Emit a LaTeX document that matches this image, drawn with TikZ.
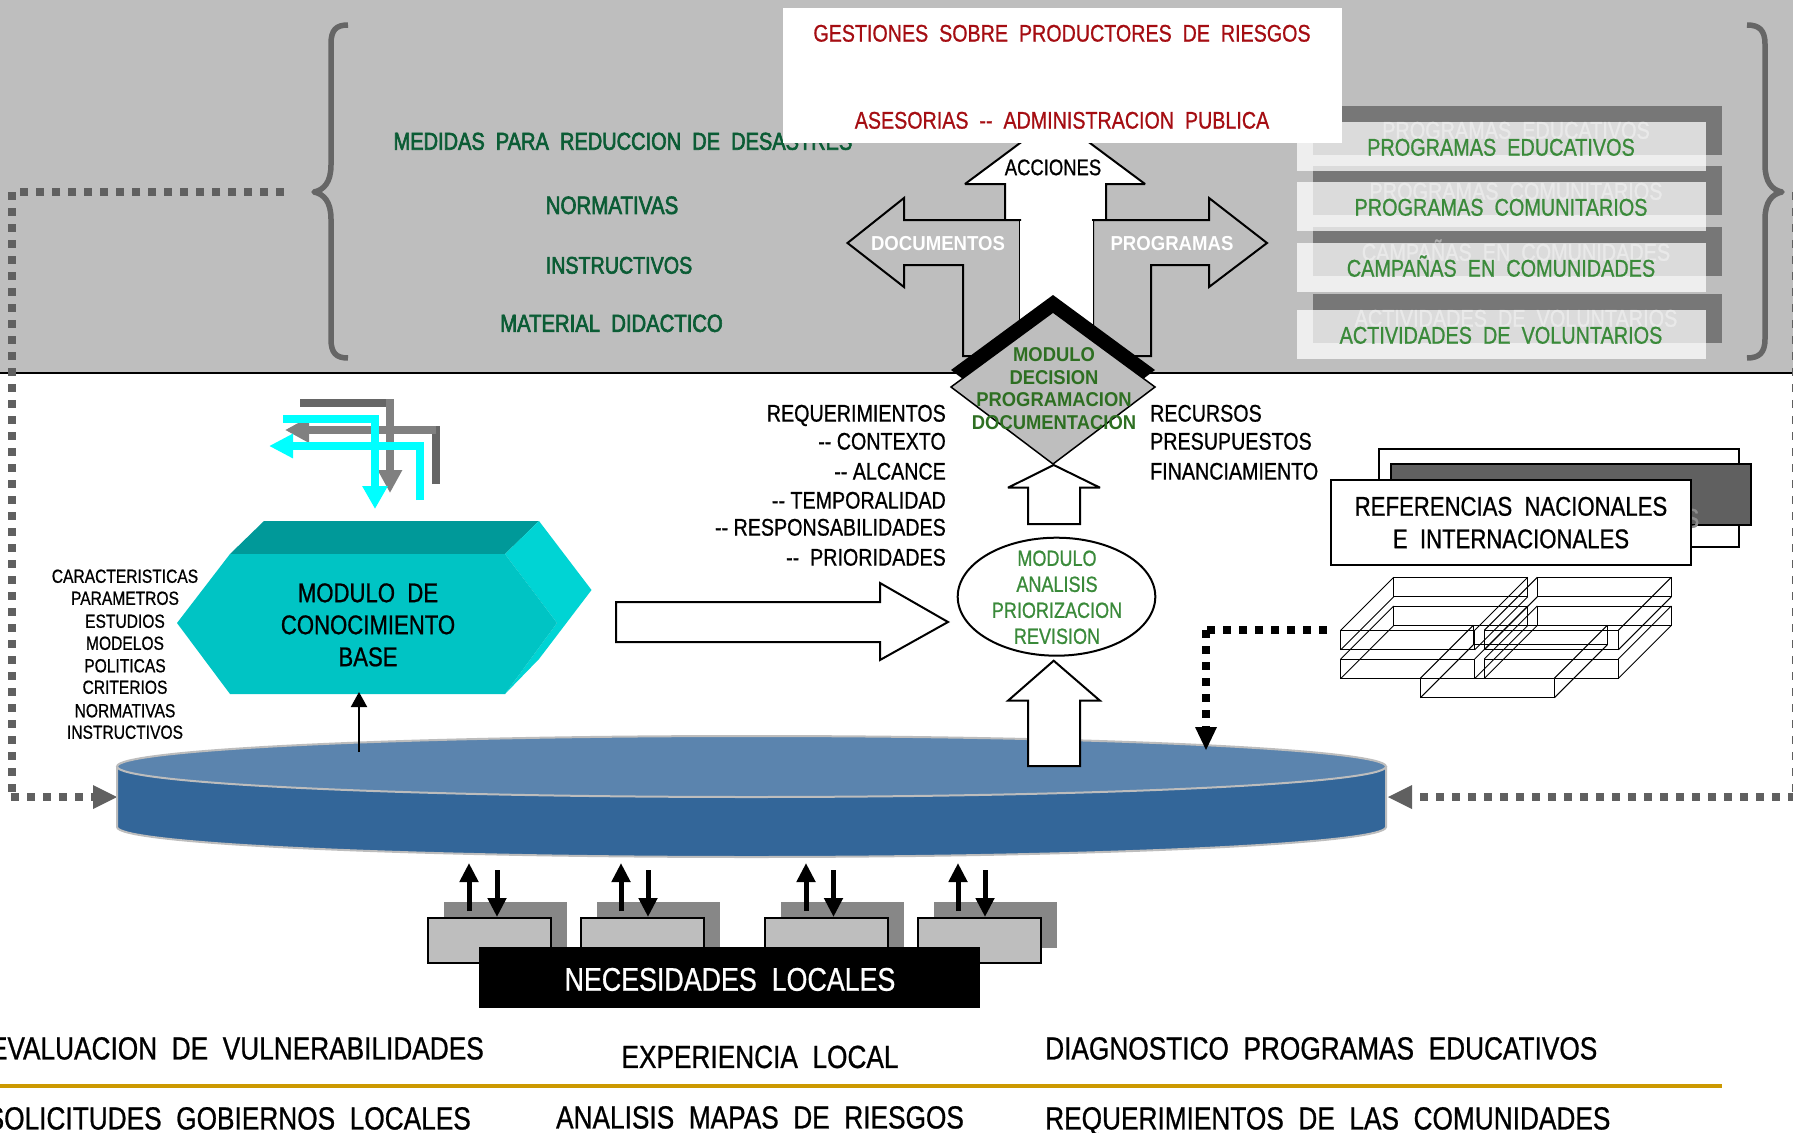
\documentclass[tikz,border=0pt]{standalone}
\usepackage{fontspec}
\usetikzlibrary{arrows.meta,shapes.geometric}
\setmainfont{Liberation Sans}
\newfontfamily\narf[FakeStretch=0.82,FakeBold=0.8]{Liberation Sans}
\newfontfamily\nargf[FakeStretch=0.82,FakeBold=2.5]{Liberation Sans}
\newfontfamily\boldf[FakeStretch=0.92]{Liberation Sans Bold}
\definecolor{bgray}{HTML}{BEBEBE}
\definecolor{dotg}{HTML}{606060}
\definecolor{band}{HTML}{777777}
\definecolor{grn}{HTML}{3A8A3A}
\definecolor{dgrn}{HTML}{0B5C35}
\definecolor{mgrn}{HTML}{2E6F22}
\definecolor{redt}{HTML}{A50D12}
\definecolor{tealf}{HTML}{00C4C4}
\definecolor{tealt}{HTML}{009999}
\definecolor{tealr}{HTML}{00D4D4}
\definecolor{diskside}{HTML}{336699}
\definecolor{disktop}{HTML}{5B84AE}
\definecolor{diskedge}{HTML}{BDBDBD}
\definecolor{gold}{HTML}{CC9900}
\definecolor{cyanb}{HTML}{00FFFF}
\tikzset{
  sz/.style={inner sep=0pt,font=\narf\fontsize{#1}{#1}\selectfont,
    /utils/exec={\pgfmathsetmacro\capht{0.716*#1}},text height=\capht pt,text depth=0pt},
  gz/.style={inner sep=0pt,font=\nargf\fontsize{#1}{#1}\selectfont,
    /utils/exec={\pgfmathsetmacro\capht{0.716*#1}},text height=\capht pt,text depth=0pt},
  bz/.style={inner sep=0pt,font=\boldf\fontsize{#1}{#1}\selectfont,
    /utils/exec={\pgfmathsetmacro\capht{0.716*#1}},text height=\capht pt,text depth=0pt},
  blockarrow/.style={draw=black,line width=2pt,line join=miter,miter limit=3},
  dots/.style={line width=8pt,dash pattern=on 8pt off 8pt},
  greydots/.style={dots,draw=dotg},
  wire/.style={draw=black,line width=0.9pt},
  bracex/.style={draw=black!60,line width=5.5pt,line cap=butt,line join=round},
  localbox/.style={draw=black,line width=2pt,fill=bgray},
  shadowbox/.style={fill=black!47},
  tinyup/.style={line width=5pt,-{Triangle[length=19pt,width=18pt]},shorten >=0pt},
}
\newcommand{\wirebox}[2]{%
  \draw[wire] (#1,#2) rectangle ++(134,19.5);
  \draw[wire] (#1+53,#2-53) rectangle ++(134,19.5);
  \draw[wire] (#1,#2) -- ++(53,-53) (#1+134,#2) -- ++(53,-53)
    (#1,#2+19.5) -- ++(53,-53) (#1+134,#2+19.5) -- ++(53,-53);}
\begin{document}
\begin{tikzpicture}[x=1pt,y=-1pt]
\useasboundingbox (0,0) rectangle (1793,1132);
\clip (0,0) rectangle (1793,1132);
\fill[white] (0,0) rectangle (1793,1132);
% top band
\fill[bgray] (0,0) rectangle (1793,373);
\draw[black,line width=2pt] (0,373) -- (1793,373);
% braces
\draw[bracex] (348,25) .. controls (336,25) and (331,30) .. (331,44) -- (331,165)
  .. controls (331,182) and (324,190) .. (314,192)
  .. controls (324,194) and (331,202) .. (331,219) -- (331,339)
  .. controls (331,353) and (336,358) .. (348,358);
\draw[bracex] (1747,25) .. controls (1759,25) and (1765,30) .. (1765,44) -- (1765,165)
  .. controls (1765,182) and (1772,190) .. (1782,192)
  .. controls (1772,194) and (1765,202) .. (1765,219) -- (1765,339)
  .. controls (1765,353) and (1759,358) .. (1747,358);
% grey dotted feedback lines
\coordinate (dlA) at (284,192);
\coordinate (dlB) at (19,192);
\coordinate (dlC) at (11.7,192);
\coordinate (dlD) at (11.7,792);
\coordinate (dlE) at (11,797);
\coordinate (dlF) at (93,797);
\coordinate (dlT) at (117,797);
\draw[greydots] (dlA) -- (dlB);
\draw[greydots] (dlC) -- (dlD);
\draw[greydots] (dlE) -- (dlF);
\fill[dotg] (93,785) -- (dlT) -- (93,809) -- cycle;
\coordinate (drA) at (1795.5,192);
\coordinate (drB) at (1795.5,797);
\coordinate (drC) at (1420,797);
\coordinate (drT) at (1388,797);
\draw[greydots] (drA) -- (drB);
\draw[greydots] (drB) -- (drC);
\fill[dotg] (1412,785) -- (drT) -- (1412,809) -- cycle;
% left green list
\node[gz=24.4,text=dgrn] (medidas) at (623,141) {MEDIDAS~~PARA~~REDUCCION~~DE~~DESASTRES};
\node[gz=25,text=dgrn] (norm) at (612,205) {NORMATIVAS};
\node[gz=24,text=dgrn] (instr) at (619,265) {INSTRUCTIVOS};
\node[gz=24.7,text=dgrn] (mater) at (611.5,323) {MATERIAL~~DIDACTICO};
% right stacked list
\fill[band] (1313,106) rectangle (1722,155);
\fill[band] (1313,166) rectangle (1722,215);
\fill[band] (1313,227) rectangle (1722,276);
\fill[band] (1313,294) rectangle (1722,343);
\node[sz=24.2,text=black!32] (g1) at (1516,130) {PROGRAMAS~~EDUCATIVOS};
\node[sz=24.2,text=black!32] (g2) at (1516,191) {PROGRAMAS~~COMUNITARIOS};
\node[sz=24.2,text=black!32] (g3) at (1516,252) {CAMPAÑAS~~EN~~COMUNIDADES};
\node[sz=24.2,text=black!32] (g4) at (1516,318) {ACTIVIDADES~~DE~~VOLUNTARIOS};
\fill[white,fill opacity=.74] (1297,122) rectangle (1706,171);
\fill[white,fill opacity=.74] (1297,182) rectangle (1706,231);
\fill[white,fill opacity=.74] (1297,243) rectangle (1706,292);
\fill[white,fill opacity=.74] (1297,310) rectangle (1706,359);
\node[sz=24.2,text=grn] (p1) at (1501,147) {PROGRAMAS~~EDUCATIVOS};
\node[sz=24.2,text=grn] (p2) at (1501,207) {PROGRAMAS~~COMUNITARIOS};
\node[sz=24.2,text=grn] (p3) at (1501,268) {CAMPAÑAS~~EN~~COMUNIDADES};
\node[sz=24.2,text=grn] (p4) at (1501,335) {ACTIVIDADES~~DE~~VOLUNTARIOS};
% three-way arrow
\draw[blockarrow,fill=white] (1055,117) -- (1145,184) -- (1106,184) -- (1106,360)
  -- (1005,360) -- (1005,184) -- (965,184) -- cycle;
\fill[white] (783,8) rectangle (1342,143);
\node[sz=24,text=redt] (gest) at (1062,33) {GESTIONES~~SOBRE~~PRODUCTORES~~DE~~RIESGOS};
\node[sz=24,text=redt] (ases) at (1062,120) {ASESORIAS~~--~~ADMINISTRACION~~PUBLICA};
\draw[blockarrow,fill=bgray] (847.5,243) -- (904,198) -- (904,220) -- (1020,220) -- (1020,356)
  -- (963,356) -- (963,265) -- (904,265) -- (904,287) -- cycle;
\draw[blockarrow,fill=bgray] (1267,243) -- (1209,198) -- (1209,220) -- (1093,220) -- (1093,356)
  -- (1151,356) -- (1151,265) -- (1209,265) -- (1209,287) -- cycle;
\fill[white] (1020,221) rectangle (1093,340);
\node[sz=20,font=\narf\fontsize{22.5}{22.5}\selectfont] (acc) at (1053,168) {ACCIONES};
\node[bz=20.2,text=white] (docs) at (938,243) {DOCUMENTOS};
\node[bz=20.2,text=white] (prog) at (1172,243) {PROGRAMAS};
% diamond
\fill[black] (1053,295) -- (1155,370) -- (1053,447) -- (951,370) -- cycle;
\draw[draw=black,line width=1.5pt,fill=bgray] (1053,312) -- (1155,387) -- (1053,464) -- (951,387) -- cycle;
\node[bz=20,text=mgrn] (d1) at (1054,354) {MODULO};
\node[bz=20,text=mgrn] (d2) at (1054,377) {DECISION};
\node[bz=20,text=mgrn] (d3) at (1054,399) {PROGRAMACION};
\node[bz=20,text=mgrn] (d4) at (1054,422) {DOCUMENTACION};
% requirements
\node[sz=24,anchor=east] (r1) at (946,413) {REQUERIMIENTOS};
\node[sz=24,anchor=east] (r2) at (946,441) {-- CONTEXTO};
\node[sz=24,anchor=east] (r3) at (946,471) {-- ALCANCE};
\node[sz=24,anchor=east] (r4) at (946,500) {-- TEMPORALIDAD};
\node[sz=24,anchor=east] (r5) at (946,527) {-- RESPONSABILIDADES};
\node[sz=24,anchor=east] (r6) at (946,557) {--~~PRIORIDADES};
\node[sz=24,anchor=west] (s1) at (1150,413) {RECURSOS};
\node[sz=24,anchor=west] (s2) at (1150,441) {PRESUPUESTOS};
\node[sz=24,anchor=west] (s3) at (1150,471) {FINANCIAMIENTO};
% disk
\draw[draw=diskedge,line width=2pt,fill=diskside] (117,767) -- (117,827)
  .. controls (117,843.6) and (401,857) .. (751.5,857)
  .. controls (1102,857) and (1386,843.6) .. (1386,827) -- (1386,767) -- cycle;
\node[draw=diskedge,line width=2pt,fill=disktop,ellipse,inner sep=0pt,
  minimum width=1269pt,minimum height=61pt] (disk) at (751.5,766.5) {};
% block arrows
\draw[blockarrow,fill=white] (1053.7,465) -- (1100,487.7) -- (1080,487.7) -- (1080,524)
  -- (1028,524) -- (1028,487.7) -- (1008,487.7) -- cycle;
\draw[blockarrow,fill=white] (1053.7,660.7) -- (1100,700.7) -- (1080,700.7) -- (1080,766)
  -- (1028,766) -- (1028,700.7) -- (1008,700.7) -- cycle;
\draw[blockarrow,fill=white] (616,602) -- (880,602) -- (880,583) -- (948,622)
  -- (880,660) -- (880,642) -- (616,642) -- cycle;
\node[draw=black,line width=2pt,fill=white,ellipse,inner sep=0pt,
  minimum width=197.6pt,minimum height=118pt] (analisis) at (1056.5,596.7) {};
\node[sz=22,text=grn] (a1) at (1057,558) {MODULO};
\node[sz=22,text=grn] (a2) at (1057,584) {ANALISIS};
\node[sz=22,text=grn] (a3) at (1057,610) {PRIORIZACION};
\node[sz=22,text=grn] (a4) at (1057,636) {REVISION};
% knowledge module
\fill[tealt] (230,554) -- (264,521) -- (539,521) -- (505,554) -- cycle;
\fill[tealr] (505,554) -- (539,521) -- (591.5,590) -- (539,659) -- (505,694) -- (557,623) -- cycle;
\fill[tealf] (177,623) -- (230,554) -- (505,554) -- (557,623) -- (505,694) -- (230,694) -- cycle;
\node[sz=27] (m1) at (368,592.5) {MODULO~~DE};
\node[sz=27] (m2) at (368,624.5) {CONOCIMIENTO};
\node[sz=27] (m3) at (368,656.5) {BASE};
\node[sz=19] (c1) at (125,576) {CARACTERISTICAS};
\node[sz=19] (c2) at (125,598) {PARAMETROS};
\node[sz=19] (c3) at (125,621) {ESTUDIOS};
\node[sz=19] (c4) at (125,643) {MODELOS};
\node[sz=19] (c5) at (125,665.5) {POLITICAS};
\node[sz=19] (c6) at (125,687) {CRITERIOS};
\node[sz=19] (c7) at (125,710.5) {NORMATIVAS};
\node[sz=19] (c8) at (125,732) {INSTRUCTIVOS};
\coordinate (upS) at (359,752);
\coordinate (upT) at (359,692);
\draw[line width=2pt,-{Triangle[length=15pt,width=16pt]}] (upS) -- (upT);
% bent flow arrows above the module
\coordinate (a1s) at (300,403); \coordinate (a1c) at (390,403); \coordinate (a1t) at (390,493);
\coordinate (a2s) at (436,484); \coordinate (a2c) at (436,430); \coordinate (a2t) at (285,430);
\coordinate (a3s) at (283,419); \coordinate (a3c) at (375,419); \coordinate (a3t) at (375,509);
\coordinate (a4s) at (420,500); \coordinate (a4c) at (420,446); \coordinate (a4t) at (269,446);
\draw[line width=8pt,draw=black!60] (a1s) -- (a1c);
\draw[line width=8pt,draw=black!50,-{Triangle[length=23pt,width=23pt]}] (390,399) -- (a1t);
\draw[line width=8pt,draw=black!60] (a2s) -- (436,426);
\draw[line width=8pt,draw=black!50,-{Triangle[length=24pt,width=24pt]}] (a2c) -- (a2t);
\draw[line width=8pt,draw=cyanb] (a3s) -- (a3c);
\draw[line width=8pt,draw=cyanb,-{Triangle[length=23pt,width=24pt]}] (375,415) -- (a3t);
\draw[line width=8pt,draw=cyanb] (a4s) -- (420,442);
\draw[line width=8pt,draw=cyanb,-{Triangle[length=24pt,width=23pt]}] (a4c) -- (a4t);
% references
\draw[draw=black,line width=2pt,fill=white] (1379,449) rectangle (1739,547);
\draw[draw=black,line width=1.5pt,fill=dotg] (1391,464) rectangle (1751,525);
\node[sz=27,text=black!45] (refg) at (1543,518) {REFERENCIAS~~NACIONALES};
\node[draw=black,line width=2pt,fill=white,inner sep=0pt,minimum width=360pt,minimum height=85pt] (refb) at (1511,522.5) {};
\node[sz=27] (ref1) at (1511,506) {REFERENCIAS~~NACIONALES};
\node[sz=27] (ref2) at (1511,538.5) {E~~INTERNACIONALES};
% wire boxes
\wirebox{1340.7}{630.3}
\wirebox{1484.3}{630.3}
\wirebox{1340.7}{659}
\wirebox{1484.3}{659}
\wirebox{1420.3}{678.3}
% black dotted connector
\coordinate (kA) at (1327,630);
\coordinate (kB) at (1206,630);
\coordinate (kC) at (1206,727);
\coordinate (kT) at (1206,750);
\draw[dots,draw=black] (kA) -- (kB);
\draw[dots,draw=black] (kB) -- (kC);
\fill[black] (1195,727) -- (1217,727) -- (kT) -- cycle;
% local boxes
\fill[shadowbox] (444,902) rectangle (567,948);
\fill[shadowbox] (597,902) rectangle (720,948);
\fill[shadowbox] (781,902) rectangle (904,948);
\fill[shadowbox] (934,902) rectangle (1057,948);
\draw[localbox] (428,918) rectangle (551,963);
\draw[localbox] (581,918) rectangle (704,963);
\draw[localbox] (765,918) rectangle (888,963);
\draw[localbox] (918,918) rectangle (1041,963);
\node[fill=black,inner sep=0pt,minimum width=501pt,minimum height=61pt] (nec) at (729.5,977.5) {};
\node[sz=32.7,text=white] (nect) at (730,979) {NECESIDADES~~LOCALES};
\foreach \u/\d [count=\i] in {469/497,621/648,806/833.5,958/985}{
  \coordinate (us\i) at (\u,911); \coordinate (ut\i) at (\u,863);
  \coordinate (ds\i) at (\d,870); \coordinate (dt\i) at (\d,917);
  \draw[tinyup] (us\i) -- (ut\i);
  \draw[tinyup] (ds\i) -- (dt\i);
}
% bottom
\draw[draw=gold,line width=4pt] (0,1086) -- (1722,1086);
\node[sz=32,anchor=east] (b1) at (484,1048) {EVALUACION~~DE~~VULNERABILIDADES};
\node[sz=32,anchor=center] (b2) at (760,1056.5) {EXPERIENCIA~~LOCAL};
\node[sz=32,anchor=west] (b3) at (1045,1048) {DIAGNOSTICO~~PROGRAMAS~~EDUCATIVOS};
\node[sz=32,anchor=east] (b4) at (471,1118) {SOLICITUDES~~GOBIERNOS~~LOCALES};
\node[sz=32,anchor=center] (b5) at (760,1117) {ANALISIS~~MAPAS~~DE~~RIESGOS};
\node[sz=32,anchor=west] (b6) at (1045,1118) {REQUERIMIENTOS~~DE~~LAS~~COMUNIDADES};
\end{tikzpicture}
\end{document}
